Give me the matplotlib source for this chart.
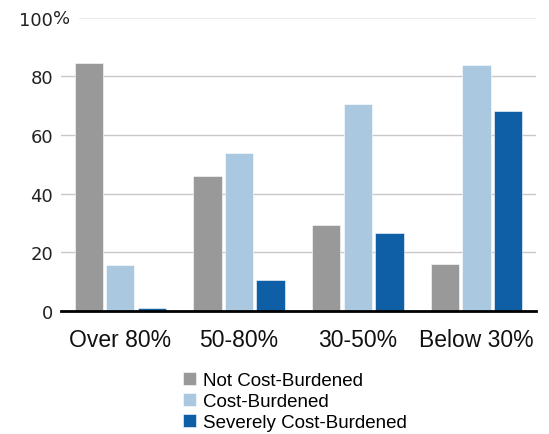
import numpy as np
import matplotlib.pyplot as plt
import matplotlib.transforms as mtransforms

# データ
categories = ['Over 80%', '50-80%', '30-50%', 'Below 30%']
series_names = ['Not Cost-Burdened', 'Cost-Burdened', 'Severely Cost-Burdened']
not_burdened = [84.4, 46.1, 29.2, 15.9]
burdened = [15.6, 53.8, 70.5, 83.9]
severely = [0.8, 10.6, 26.5, 68.3]
ytick_vals = [0, 20, 40, 60, 80, 100]
ytick_labels = ['0', '20', '40', '60', '80', '100']

colors = ['#999999', '#aac8e0', '#0e5fa5']

plt.rcParams['font.family'] = ['Liberation Sans', 'DejaVu Sans']

fig = plt.figure(figsize=(5.49, 4.35), dpi=100)
ax = fig.add_axes([0.111, 0.2834, 0.865, 0.6736])

x = np.arange(len(categories))
slot = 0.266
width = 0.239
for i, vals in enumerate([not_burdened, burdened, severely]):
    ax.bar(x + (i - 1) * slot, vals, width, color=colors[i],
           label=series_names[i], zorder=3, edgecolor='white', linewidth=0.4)

ax.set_xlim(-0.5, 3.5)
ax.set_ylim(0, 100)
ax.set_yticks(ytick_vals)
ax.set_yticklabels(ytick_labels, fontsize=13, color='#222222', family='DejaVu Sans')
ax.set_xticks(x)
ax.set_xticklabels(categories, fontsize=16.5, color='#111111')

# 100の横に % を付ける
trans = mtransforms.offset_copy(ax.get_yaxis_transform(), fig=fig, x=-8, y=0, units='dots')
ax.text(0, 100, '%', transform=trans, ha='left', va='center', fontsize=13,
        color='#222222', family='DejaVu Sans')

# グリッド
for v in [20, 40, 60, 80]:
    ax.axhline(v, color='#c8c8c8', linewidth=1.0, zorder=1)
ax.axhline(100, xmin=0.04, color='#e6e6e6', linewidth=1.2, zorder=1)

for s in ['top', 'right', 'left']:
    ax.spines[s].set_visible(False)
ax.spines['bottom'].set_linewidth(2)
ax.spines['bottom'].set_color('black')
ax.spines['bottom'].set_zorder(4)
ax.tick_params(axis='both', length=0)
ax.tick_params(axis='y', pad=5.8)
ax.tick_params(axis='x', pad=12.5)

fig.legend(loc='upper left', bbox_to_anchor=(0.333, 0.143), frameon=False,
           fontsize=13.5, handlelength=0.7, handleheight=0.7, handletextpad=0.4,
           labelspacing=0.2, borderpad=0, borderaxespad=0)

fig.savefig('out.png', dpi=100)
